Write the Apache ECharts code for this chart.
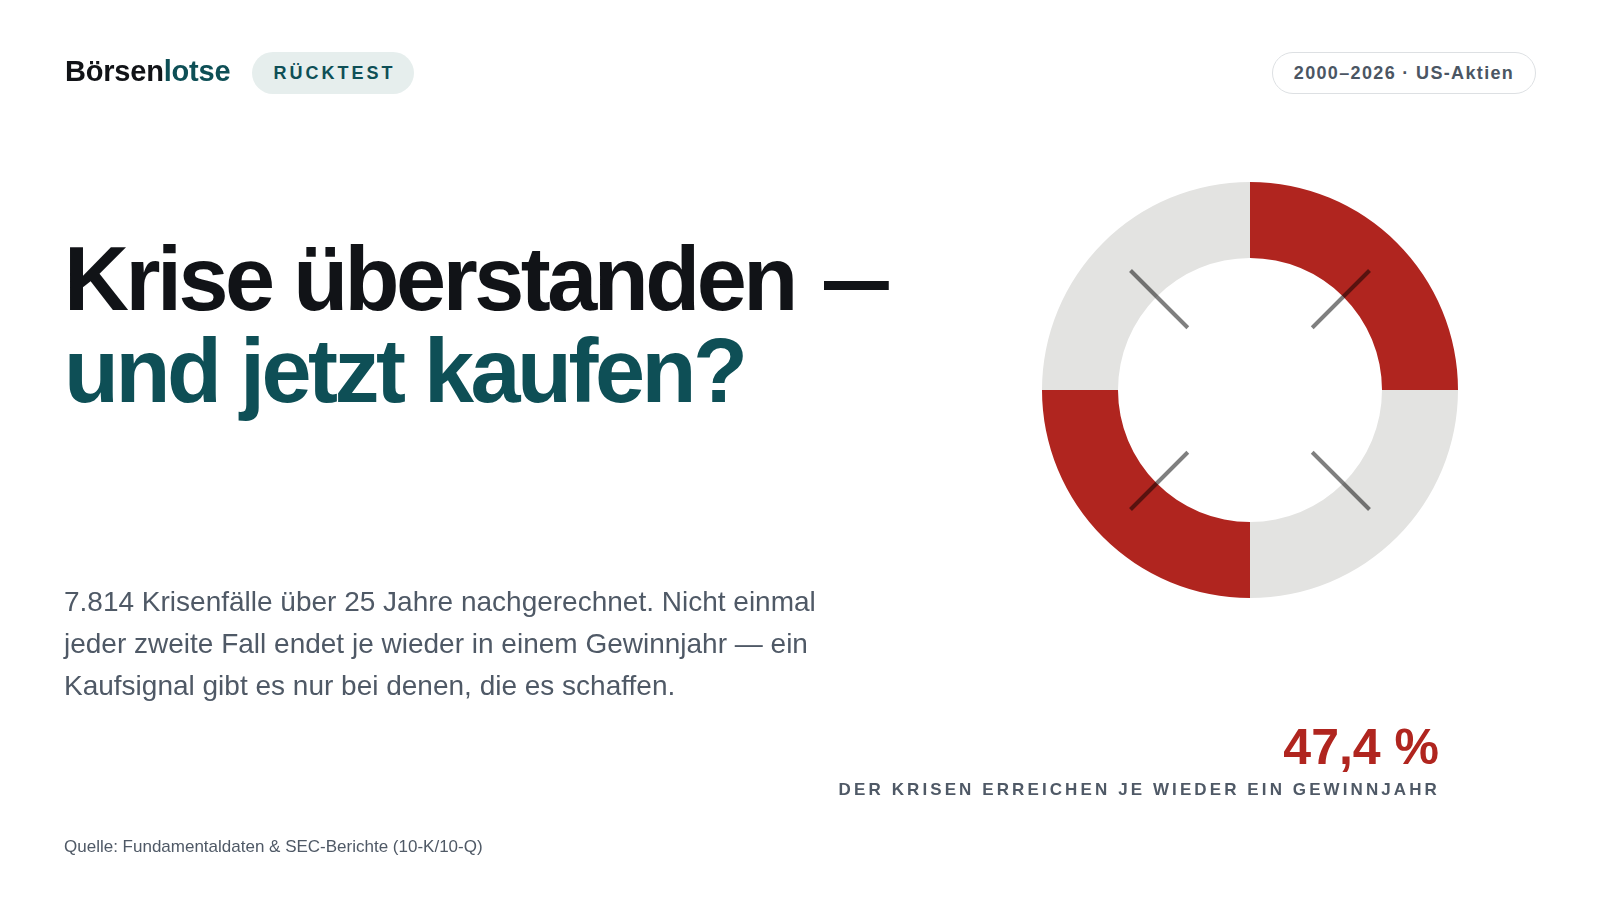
<!DOCTYPE html>
<html lang="de">
<head>
<meta charset="utf-8">
<title>Krise überstanden — und jetzt kaufen?</title>
<script src="https://cdn.jsdelivr.net/npm/echarts@6/dist/echarts.min.js"></script>
<style>
  html, body { margin: 0; padding: 0; background: #ffffff; }
  body { width: 1600px; height: 900px; position: relative; overflow: hidden;
         font-family: "Liberation Sans", Arial, Helvetica, sans-serif; }
  #chart { position: absolute; left: 0; top: 0; width: 1600px; height: 900px; }
  .t { position: absolute; white-space: nowrap; margin: 0; }
  #logo { left: 65px; top: 57px; font-size: 29px; line-height: 29px; font-weight: 700; letter-spacing: -0.2px; color: #111317; }
  #logo span { color: #0e4f56; }
  #pill1 { left: 252px; top: 52px; width: 162px; height: 42px; border-radius: 21px; background: #e6eeed;
           display: flex; align-items: center; justify-content: center; box-sizing: border-box; padding-left: 3px;
           font-size: 18px; font-weight: 700; letter-spacing: 3px; color: #0e4f56; }
  #pill2 { left: 1272px; top: 52px; width: 264px; height: 42px; border-radius: 21px; background: #ffffff;
           border: 1.5px solid #dde0e3; box-sizing: border-box;
           display: flex; align-items: center; justify-content: center;
           font-size: 18px; font-weight: 700; letter-spacing: 1.35px; color: #4b5663; }
  #title { left: 64px; top: 233px; font-size: 90px; line-height: 92px; font-weight: 700; letter-spacing: -3.5px; color: #111317; }
  #title .dash { display: inline-block; margin-left: 8px; transform: scaleX(0.72); transform-origin: 0 50%; }
  #title .l2 { color: #0e4f56; }
  #para { left: 64px; top: 581px; font-size: 28px; line-height: 42px; color: #4f5966; }
  #big { right: 161px; top: 722px; font-size: 50px; line-height: 50px; font-weight: 700; color: #b0251f; }
  #sub { right: 160px; top: 781px; font-size: 17px; line-height: 17px; font-weight: 700; letter-spacing: 3.1px; color: #4f5966; }
  #src { left: 64px; top: 838px; font-size: 17px; line-height: 17px; color: #4f5966; }
</style>
</head>
<body>
<div id="chart"></div>
<div class="t" id="logo">Börsen<span>lotse</span></div>
<div class="t" id="pill1">RÜCKTEST</div>
<div class="t" id="pill2">2000–2026 · US-Aktien</div>
<div class="t" id="title">Krise überstanden <span class="dash">—</span><br><span class="l2">und jetzt kaufen?</span></div>
<div class="t" id="para">7.814 Krisenfälle über 25 Jahre nachgerechnet. Nicht einmal<br>jeder zweite Fall endet je wieder in einem Gewinnjahr — ein<br>Kaufsignal gibt es nur bei denen, die es schaffen.</div>
<div class="t" id="big">47,4 %</div>
<div class="t" id="sub">DER KRISEN ERREICHEN JE WIEDER EIN GEWINNJAHR</div>
<div class="t" id="src">Quelle: Fundamentaldaten &amp; SEC-Berichte (10-K/10-Q)</div>
<script>
// Lifebuoy ring segments (clockwise from 12 o'clock)
const ringSegments = ['Segment 1', 'Segment 2', 'Segment 3', 'Segment 4'];
const ringValues = [25, 25, 25, 25];
const ringColors = ['#b0251f', '#e3e3e1', '#b0251f', '#e3e3e1'];
// Decorative spokes (angles in degrees, clockwise from top) and their radial extent
const spokeAngles = [45, 135, 225, 315];
const spokeRadii = [88, 169];

const chart = echarts.init(document.getElementById('chart'), null, { renderer: 'canvas' });

const spokeSeries = spokeAngles.map(function (a, i) {
  return {
    type: 'line',
    name: 'spoke' + i,
    coordinateSystem: 'polar',
    silent: true,
    symbol: 'none',
    animation: false,
    z: 5,
    lineStyle: { color: 'rgba(0,0,0,0.5)', width: 4, cap: 'butt' },
    data: spokeRadii.map(function (r) { return [r, a]; })
  };
});

chart.setOption({
  animation: false,
  polar: { center: [1250, 390], radius: 208 },
  angleAxis: { type: 'value', min: 0, max: 360, startAngle: 90, clockwise: true, show: false },
  radiusAxis: { type: 'value', min: 0, max: 208, show: false },
  series: [
    {
      type: 'pie',
      center: [1250, 390],
      radius: [132, 208],
      startAngle: 90,
      clockwise: true,
      silent: true,
      z: 2,
      label: { show: false },
      labelLine: { show: false },
      itemStyle: { borderWidth: 0 },
      emphasis: { disabled: true },
      data: ringSegments.map(function (n, i) {
        return { name: n, value: ringValues[i], itemStyle: { color: ringColors[i] } };
      })
    }
  ].concat(spokeSeries)
});
</script>
</body>
</html>
